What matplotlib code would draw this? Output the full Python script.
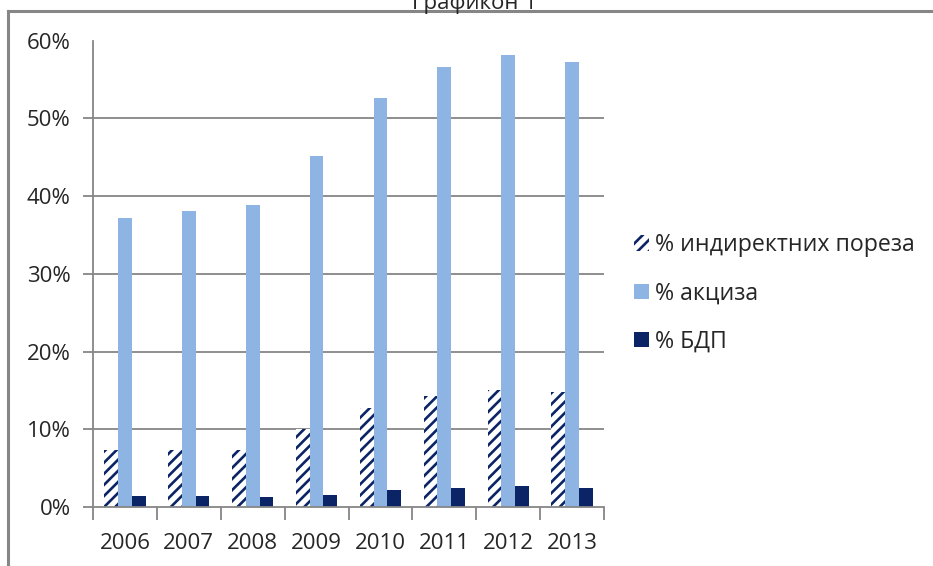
import matplotlib
matplotlib.use("Agg")
import matplotlib.pyplot as plt
import numpy as np
from matplotlib.lines import Line2D
from matplotlib.ticker import FixedLocator, PercentFormatter

plt.rcParams['font.family'] = ['Open Sans', 'DejaVu Sans']
plt.rcParams['hatch.linewidth'] = 1.9

years = ['2006', '2007', '2008', '2009', '2010', '2011', '2012', '2013']
indirect = [7.3, 7.3, 7.3, 10.1, 12.7, 14.3, 15.1, 14.8]
excise = [37.2, 38.1, 38.8, 45.2, 52.6, 56.6, 58.2, 57.2]
bdp = [1.4, 1.4, 1.25, 1.5, 2.2, 2.5, 2.7, 2.4]
labels = ['% индиректних пореза', '% акциза', '% БДП']
title = 'Графикон 1'

navy = '#0B2466'
light = '#8EB4E3'
gray = '#868686'
text_col = '#262626'

fig = plt.figure(figsize=(9.33, 5.66), dpi=100)
ax = fig.add_axes([0.0997, 0.1042, 0.5477, 0.8239])

x = np.arange(len(years))
w = 0.215
b1 = ax.bar(x - w, indirect, w, facecolor='white', edgecolor=navy, hatch='///', linewidth=0, label=labels[0])
b2 = ax.bar(x, excise, w, color=light, linewidth=0, label=labels[1])
b3 = ax.bar(x + w, bdp, w, color=navy, linewidth=0, label=labels[2])

ax.set_xlim(-0.5, len(years) - 0.5)
ax.set_ylim(0, 60)
ax.set_yticks(np.arange(0, 61, 10))
ax.yaxis.set_major_formatter(PercentFormatter(decimals=0))
for yv in range(10, 60, 10):
    ax.axhline(yv, color=gray, lw=1.3, zorder=0)

ax.set_xticks(x)
ax.set_xticklabels(years)
ax.xaxis.set_minor_locator(FixedLocator(np.arange(-0.5, len(years), 1.0)))
ax.tick_params(axis='x', which='major', length=0, pad=19, labelsize=16, labelcolor=text_col)
ax.tick_params(axis='x', which='minor', length=9, width=1.3, color=gray, direction='out')
ax.tick_params(axis='y', length=7, width=1.3, color=gray, direction='out', pad=9, labelsize=16, labelcolor=text_col)
ax.yaxis.get_major_ticks()[-1].tick1line.set_visible(False)

for s in ['top', 'right']:
    ax.spines[s].set_visible(False)
for s in ['left', 'bottom']:
    ax.spines[s].set_color(gray)
    ax.spines[s].set_linewidth(1.3)

leg = fig.legend(handles=[b1, b2, b3], labels=labels, loc='upper left',
                 bbox_to_anchor=(0.657, 0.625), frameon=False, fontsize=16.7,
                 handlelength=0.65, handleheight=0.65, handletextpad=0.25,
                 labelspacing=1.05, labelcolor=text_col)

# outer chart frame
fig.add_artist(Line2D([0.0086, 0.0086], [0.0, 0.9805], transform=fig.transFigure, color=gray, lw=2.2))
fig.add_artist(Line2D([0.0086, 1.0], [0.9805, 0.9805], transform=fig.transFigure, color=gray, lw=2.2))
fig.text(0.509, 0.984, title, ha='center', va='baseline', fontsize=16, color=text_col)

fig.savefig('out.png', dpi=100)
